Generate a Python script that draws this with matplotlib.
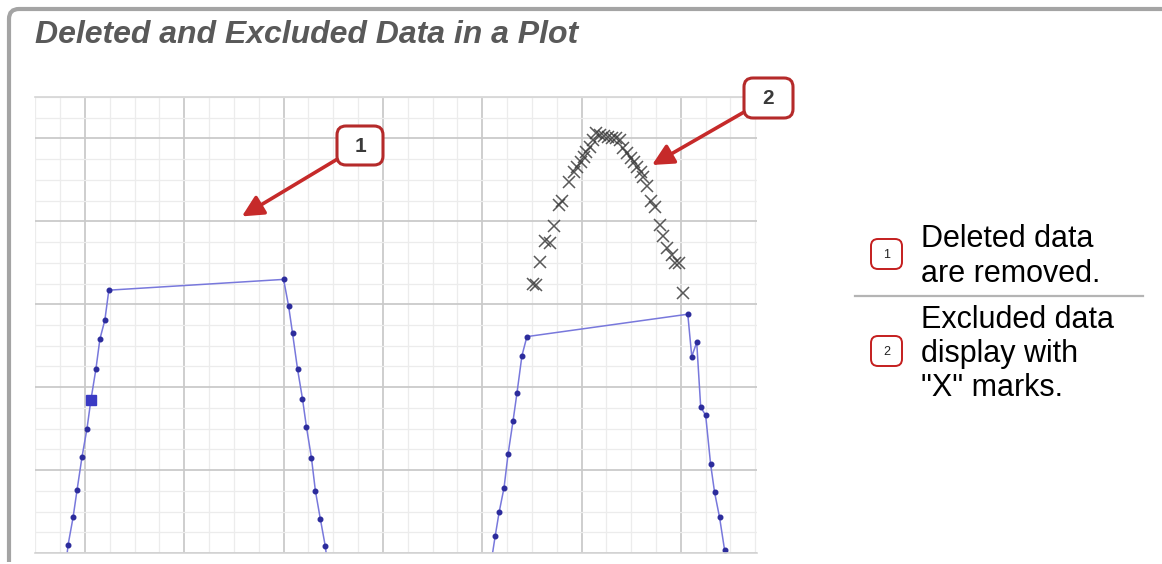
import matplotlib
matplotlib.use("Agg")
import matplotlib.pyplot as plt
from matplotlib.patches import FancyBboxPatch, PathPatch
from matplotlib.path import Path
from matplotlib.ticker import MultipleLocator

plt.rcParams['font.family'] = ['Liberation Sans', 'DejaVu Sans']

# First run: kept points (the last few deleted from the top of the curve)
run1_x = [-0.19, -0.17, -0.12, -0.08, -0.03, 0.02, 0.06, 0.11, 0.15, 0.20, 0.24,
          2.00, 2.05, 2.09, 2.14, 2.19, 2.23, 2.28, 2.32, 2.37, 2.42, 2.44]
run1_y = [-0.11, 0.10, 0.43, 0.76, 1.16, 1.50, 1.85, 2.22, 2.58, 2.81, 3.17,
          3.30, 2.98, 2.65, 2.22, 1.86, 1.52, 1.15, 0.75, 0.41, 0.08, -0.11]
selected_x = [0.06]
selected_y = [1.85]

# Second run: kept points
run2_x = [4.09, 4.13, 4.17, 4.22, 4.26, 4.31, 4.35, 4.40, 4.45,
          6.07, 6.11, 6.16, 6.20, 6.25, 6.30, 6.34, 6.39, 6.44, 6.45]
run2_y = [-0.11, 0.20, 0.49, 0.79, 1.19, 1.59, 1.93, 2.38, 2.61,
          2.88, 2.37, 2.54, 1.76, 1.66, 1.07, 0.73, 0.43, 0.04, -0.11]

# Second run: excluded points
excl_x = [4.51, 4.54, 4.58, 4.63, 4.68, 4.72, 4.77, 4.80, 4.87, 4.92, 4.95,
          4.99, 5.02, 5.05, 5.09, 5.12, 5.15, 5.19, 5.23, 5.27, 5.31, 5.35,
          5.39, 5.42, 5.46, 5.50, 5.53, 5.56, 5.60, 5.62, 5.66, 5.70, 5.74,
          5.79, 5.82, 5.86, 5.91, 5.94, 5.98, 6.02]
excl_y = [3.25, 3.23, 3.51, 3.76, 3.74, 3.94, 4.20, 4.25, 4.47, 4.60, 4.66,
          4.72, 4.78, 4.84, 4.90, 4.98, 5.06, 5.04, 5.03, 5.02, 5.01, 5.00,
          4.98, 4.88, 4.82, 4.77, 4.72, 4.66, 4.60, 4.53, 4.43, 4.25, 4.17,
          3.96, 3.82, 3.68, 3.60, 3.50, 3.50, 3.13]

# Where the callout arrows point
callout_labels = ["1", "2"]
callout_tips = [(1.58, 4.06), (5.71, 4.68)]

legend_lines = [["Deleted data", "are removed."],
                ["Excluded data", "display with", "\"X\" marks."]]
title = "Deleted and Excluded Data in a Plot"

W, H = 1162, 564
fig = plt.figure(figsize=(W / 100, H / 100), dpi=100)
fig.patch.set_facecolor("white")

# Main plotting area
ax = fig.add_axes([35 / W, 1 - 553 / H, (757 - 35) / W, (553 - 97) / H])
ax.set_xlim(-0.5035, 6.767)
ax.set_ylim(0, 5.5)
ax.xaxis.set_major_locator(MultipleLocator(1))
ax.xaxis.set_minor_locator(MultipleLocator(0.25))
ax.yaxis.set_major_locator(MultipleLocator(1))
ax.yaxis.set_minor_locator(MultipleLocator(0.25))
ax.grid(which="minor", color="#ececec", lw=0.9)
ax.grid(which="major", color="#cacaca", lw=1.3)
ax.set_axisbelow(True)
ax.tick_params(which="both", length=0, labelbottom=False, labelleft=False)
for side, sp in ax.spines.items():
    sp.set_color("#d4d4d4")
    sp.set_linewidth(1.2)
ax.spines["left"].set_visible(False)
ax.spines["right"].set_visible(False)

line_kw = dict(color="#7878dc", lw=1.1, marker="o", ms=3.3,
               mfc="#2c2c9c", mec="#2c2c9c", clip_on=True)
ax.plot(run1_x, run1_y, **line_kw)
ax.plot(run2_x, run2_y, **line_kw)
ax.plot(selected_x, selected_y, ls="none", marker="s", ms=7.5,
        mfc="#3a3ac4", mec="#3a3ac4")
ax.plot(excl_x, excl_y, ls="none", marker="x", ms=8.5, mew=1.1,
        color="#3c3c3c", alpha=0.85)

# Overlay in pixel coordinates for the frame, callouts and legend
ov = fig.add_axes([0, 0, 1, 1])
ov.set_xlim(0, W)
ov.set_ylim(H, 0)
ov.axis("off")
ov.patch.set_alpha(0)

frame = Path([(9, 562), (9, 19), (9, 9), (19, 9), (W + 2, 9)],
             [Path.MOVETO, Path.LINETO, Path.CURVE3, Path.CURVE3, Path.LINETO])
ov.add_patch(PathPatch(frame, fill=False, ec="#a4a4a4", lw=3.0))

ov.text(35, 43, title, fontsize=23, fontweight="bold", fontstyle="italic",
        color="#595959", va="baseline", ha="left")

# Callout boxes with arrows
boxes = [(337, 126, 46, 39), (744, 78, 49, 40)]
for lab, (bx, by, bw, bh), tip in zip(callout_labels, boxes, callout_tips):
    cx, cy = bx + bw / 2, by + bh / 2
    ov.annotate("", xy=tip, xycoords=ax.transData,
                xytext=(cx, cy), textcoords="data",
                arrowprops=dict(arrowstyle="-|>,head_length=0.8,head_width=0.4",
                                color="#c62a2a", lw=2.6, mutation_scale=16,
                                shrinkA=0, shrinkB=0),
                zorder=3)
    ov.add_patch(FancyBboxPatch((bx, by), bw, bh,
                                boxstyle="round,pad=0,rounding_size=9",
                                fc="white", ec="#b52a2a", lw=2.2, zorder=4))
    ov.text(cx, cy + 1, lab, fontsize=15, fontweight="bold", color="#3a3a3a",
            ha="center", va="center", zorder=5)

# Legend on the right
legend_boxes = [(871, 239, 31, 30), (871, 336, 31, 30)]
legend_baselines = [[247.0, 282.0], [328.5, 362.0, 395.5]]
for lab, (bx, by, bw, bh), lines, bases in zip(callout_labels, legend_boxes,
                                              legend_lines, legend_baselines):
    ov.add_patch(FancyBboxPatch((bx, by), bw, bh,
                                boxstyle="round,pad=0,rounding_size=7",
                                fc="white", ec="#c41e1e", lw=1.4))
    ov.text(bx + bw / 2, by + bh / 2 + 1, lab, fontsize=9, color="#222222",
            ha="center", va="center")
    for txt, yb in zip(lines, bases):
        ov.text(921, yb, txt, fontsize=22, color="black",
                ha="left", va="baseline")

ov.plot([855, 1143], [296, 296], color="#b4b4b4", lw=1.6)

fig.savefig("out.png", dpi=100)
